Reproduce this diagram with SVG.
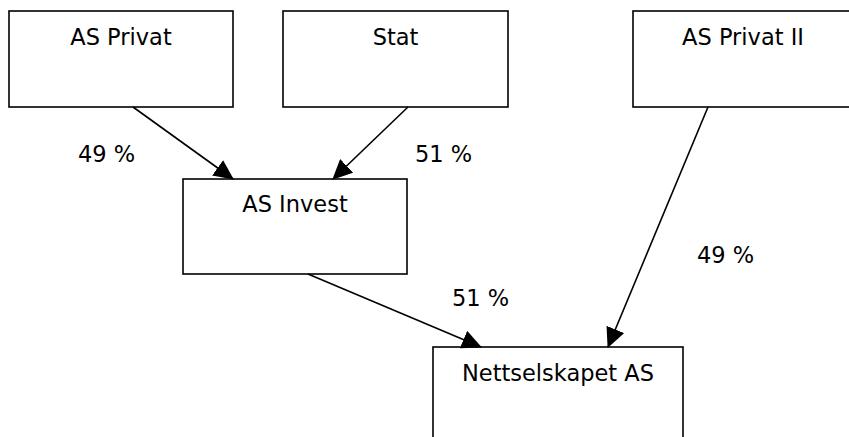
<svg xmlns="http://www.w3.org/2000/svg" width="849" height="437" viewBox="0 0 849 437">
<style>
.box{fill:#fff;stroke:#000;stroke-width:1.6}
.t{font-family:"DejaVu Sans",Verdana,sans-serif;font-size:22.5px;fill:#000;text-anchor:middle}
.l{font-family:"DejaVu Sans",Verdana,sans-serif;font-size:22.5px;fill:#000}
.c{stroke:#000;stroke-width:1.6;fill:none;marker-end:url(#ah)}
</style>
<defs>
<marker id="ah" viewBox="0 0 20 19" refX="19" refY="9.5" markerWidth="20" markerHeight="19" markerUnits="userSpaceOnUse" orient="auto">
<path d="M0,0 L20,9.5 L0,19 z" fill="#000"/>
</marker>
</defs>
<rect width="849" height="437" fill="#fff"/>
<g id="as-privat"><rect class="box" x="9" y="11" width="224" height="96"/><text class="t" x="121" y="45">AS Privat</text></g>
<g id="stat"><rect class="box" x="283" y="11" width="225" height="96"/><text class="t" x="395.5" y="45">Stat</text></g>
<g id="as-privat-ii"><rect class="box" x="633" y="11" width="220" height="96"/><text class="t" x="743" y="45">AS Privat II</text></g>
<g id="as-invest"><rect class="box" x="183" y="179" width="224" height="95"/><text class="t" x="295" y="212">AS Invest</text></g>
<g id="nettselskapet"><rect class="box" x="433" y="347" width="250" height="100"/><text class="t" x="558" y="381">Nettselskapet AS</text></g>
<g id="connectors">
<line class="c" x1="133" y1="107" x2="233" y2="179"/>
<line class="c" x1="408" y1="107" x2="333" y2="179"/>
<line class="c" x1="308" y1="274" x2="481" y2="347"/>
<line class="c" x1="708" y1="107" x2="608" y2="347"/>
<text class="l" x="78" y="162">49 %</text>
<text class="l" x="415" y="162">51 %</text>
<text class="l" x="452" y="306">51 %</text>
<text class="l" x="697" y="263">49 %</text>
</g>
</svg>
